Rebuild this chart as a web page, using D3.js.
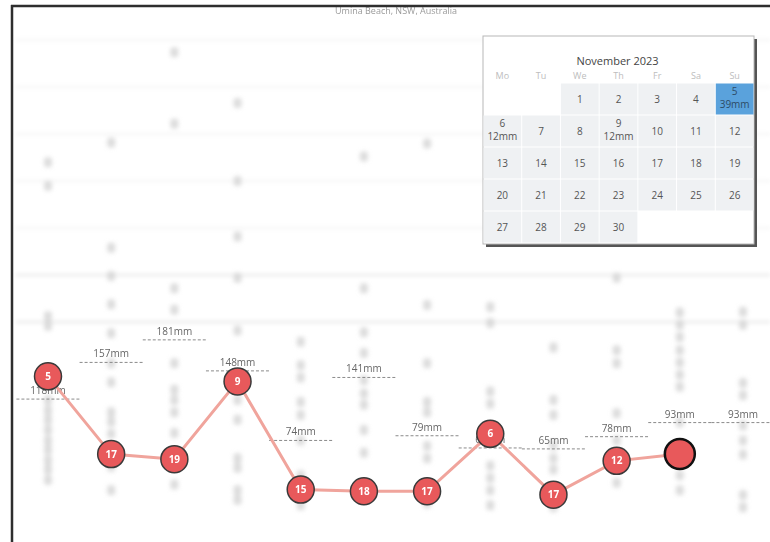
<!DOCTYPE html>
<html>
<head>
<meta charset="utf-8">
<script src="https://cdn.jsdelivr.net/npm/d3@7"></script>
<style>
  body { margin: 0; background: #fff; }
  svg { display: block; font-family: "Open Sans", "Noto Sans", sans-serif; }
</style>
</head>
<body>
<svg width="770" height="542"></svg>
<script>
// monthly data, 2023
var months = ["Jan", "Feb", "Mar", "Apr", "May", "Jun", "Jul", "Aug", "Sep", "Oct", "Nov", "Dec"];
var totals = [118, 157, 181, 148, 74, 141, 79, 66, 65, 78, 93, 93];
var peakMm = [85, 39, 36, 82, 18, 17, 17, 51, 15, 35, 39];
var peakDay = [5, 17, 19, 9, 15, 18, 17, 6, 17, 12, 5];
var selectedMonth = "Nov";

// faded background marks per month (mm scale)
var ghostMarks = [
  [370, 345, 206, 196, 117, 106, 96, 85, 74, 64, 53, 43, 32],
  [391, 279, 249, 219, 188, 156, 136, 104, 94, 81, 46, 21],
  [487, 411, 236, 213, 156, 128, 117, 104, 82, 27],
  [433, 350, 291, 247, 191, 117, 96, 55, 45, 21, 11],
  [179, 154, 141, 115, 101, 74, 37, 21, 5],
  [376, 236, 189, 167, 138, 124, 112, 85, 61],
  [390, 218, 156, 115, 104, 68, 55, 7],
  [216, 199, 126, 113, 47, 34, 21, 5],
  [173, 117, 101, 69, 55, 43, 3],
  [247, 170, 156, 103, 74, 29],
  [210, 197, 184, 170, 157, 144, 131, 93, 37, 21],
  [211, 197, 135, 122, 90, 74, 59, 16, 3]
];
var gridTicks = [200, 250, 300, 350, 400, 450, 500];

// calendar inset
var calTitle = "November 2023";
var weekDays = ["Mo", "Tu", "We", "Th", "Fr", "Sa", "Su"];
var calDays = [1, 2, 3, 4, 5, 6, 7, 8, 9, 10, 11, 12, 13, 14, 15, 16, 17, 18, 19, 20,
  21, 22, 23, 24, 25, 26, 27, 28, 29, 30];
var firstWeekday = 2; // 1 Nov 2023 is a Wednesday
var rainDays = [5, 6, 9];
var rainMm = [39, 12, 12];
var highlightDay = 5;

document.addEventListener("DOMContentLoaded", function () {

  var svg = d3.select("svg");
  var xScale = d3.scalePoint().domain(months).range([48, 743]);
  var yTotal = d3.scaleLinear().domain([0, 500]).range([510, 40]);
  var yPeak = d3.scaleLinear().domain([0, 100]).range([520, 351]);

  var defs = svg.append("defs");
  defs.append("filter").attr("id", "blur")
    .attr("x", "-20%").attr("y", "-20%").attr("width", "140%").attr("height", "140%")
    .append("feGaussianBlur").attr("stdDeviation", 2);

  drawGhost();
  drawTotals();
  drawLine();
  drawFrame();
  drawCalendar();

  function drawGhost() {
    var g = svg.append("g").attr("filter", "url(#blur)");

    g.selectAll("line.grid")
      .data(gridTicks).enter()
      .append("line")
      .attr("class", "grid")
      .attr("x1", 16).attr("x2", 770)
      .attr("y1", function (d) { return yTotal(d); })
      .attr("y2", function (d) { return yTotal(d); })
      .style("stroke", function (d) { return d <= 250 ? "#e4e4e4" : "#f3f3f3"; })
      .style("stroke-width", "2px");

    months.forEach(function (m, i) {
      g.selectAll("rect.m" + i)
        .data(ghostMarks[i]).enter()
        .append("rect")
        .attr("x", xScale(m) - 4)
        .attr("y", function (d) { return yTotal(d) - 5; })
        .attr("width", 8)
        .attr("height", 10)
        .attr("rx", 3)
        .style("fill", "#cfcfcf")
        .style("opacity", 0.7);
    });

    svg.append("text")
      .attr("x", 396).attr("y", 14)
      .attr("text-anchor", "middle")
      .style("font-size", "9px")
      .style("fill", "#9a9a9a")
      .text("Umina Beach, NSW, Australia");
  }

  function drawTotals() {
    var step = xScale.step();
    var g = svg.append("g");

    g.selectAll("line.total")
      .data(totals).enter()
      .append("line")
      .attr("x1", function (d, i) { return xScale(months[i]) - step / 2; })
      .attr("x2", function (d, i) { return xScale(months[i]) + step / 2; })
      .attr("y1", function (d) { return yTotal(d); })
      .attr("y2", function (d) { return yTotal(d); })
      .style("stroke", "#8a8a8a")
      .style("stroke-width", "1px")
      .style("stroke-dasharray", "3,2");

    g.selectAll("text.total")
      .data(totals).enter()
      .append("text")
      .attr("x", function (d, i) { return xScale(months[i]); })
      .attr("y", function (d) { return yTotal(d) - 5; })
      .attr("text-anchor", "middle")
      .style("font-size", "10px")
      .style("fill", "#666")
      .text(function (d) { return d + "mm"; });
  }

  function drawLine() {
    var pts = peakMm.map(function (v, i) { return { m: months[i], v: v, day: peakDay[i] }; });

    var line = d3.line()
      .x(function (d) { return xScale(d.m); })
      .y(function (d) { return yPeak(d.v); });

    svg.append("path")
      .datum(pts)
      .attr("d", line)
      .style("fill", "none")
      .style("stroke", "#f0a49c")
      .style("stroke-width", "3px");

    var dots = svg.selectAll("g.peak")
      .data(pts).enter()
      .append("g")
      .attr("class", "peak")
      .attr("transform", function (d) {
        return "translate(" + xScale(d.m) + "," + yPeak(d.v) + ")";
      });

    dots.append("circle")
      .attr("r", function (d) { return d.m === selectedMonth ? 15 : 13.5; })
      .style("fill", "#e8595b")
      .style("stroke", function (d) { return d.m === selectedMonth ? "#111" : "#3a3a3a"; })
      .style("stroke-width", function (d) { return d.m === selectedMonth ? "2.5px" : "1.5px"; });

    dots.filter(function (d) { return d.m !== selectedMonth; })
      .append("text")
      .attr("text-anchor", "middle")
      .attr("dy", "0.35em")
      .style("font-size", "10px")
      .style("font-weight", "bold")
      .style("fill", "#fff")
      .text(function (d) { return d.day; });
  }

  function drawFrame() {
    svg.append("line")
      .attr("x1", 11).attr("x2", 770).attr("y1", 6).attr("y2", 6)
      .style("stroke", "#2e2e2e").style("stroke-width", "2.5px");
    svg.append("line")
      .attr("x1", 12).attr("x2", 12).attr("y1", 5).attr("y2", 542)
      .style("stroke", "#2e2e2e").style("stroke-width", "2.5px");
  }

  function drawCalendar() {
    var left = 483, top = 36, w = 271, h = 208;
    var g = svg.append("g");

    g.append("rect")
      .attr("x", left + 3).attr("y", top + 3).attr("width", w).attr("height", h)
      .style("fill", "#555");
    g.append("rect")
      .attr("x", left).attr("y", top).attr("width", w).attr("height", h)
      .style("fill", "#fff").style("stroke", "#b8b8b8").style("stroke-width", "1px");

    g.append("text")
      .attr("x", left + w / 2 - 1).attr("y", 65)
      .attr("text-anchor", "middle")
      .style("font-size", "11px")
      .style("fill", "#444")
      .text(calTitle);

    var colScale = d3.scaleBand().domain(weekDays).range([left, left + w]);
    var rowScale = d3.scaleBand().domain([0, 1, 2, 3, 4]).range([83, 243]);

    g.selectAll("text.wd")
      .data(weekDays).enter()
      .append("text")
      .attr("x", function (d) { return colScale(d) + colScale.bandwidth() / 2; })
      .attr("y", 79)
      .attr("text-anchor", "middle")
      .style("font-size", "9px")
      .style("fill", "#bdbdbd")
      .text(function (d) { return d; });

    var cells = g.selectAll("g.day")
      .data(calDays).enter()
      .append("g")
      .attr("class", "day")
      .attr("transform", function (d) {
        var k = d - 1 + firstWeekday;
        return "translate(" + colScale(weekDays[k % 7]) + "," + rowScale(Math.floor(k / 7)) + ")";
      });

    cells.append("rect")
      .attr("x", 0.5).attr("y", 0.5)
      .attr("width", colScale.bandwidth() - 1)
      .attr("height", rowScale.bandwidth() - 1)
      .style("fill", function (d) { return d === highlightDay ? "#5aa2dc" : "#eff1f3"; });

    cells.append("text")
      .attr("x", colScale.bandwidth() / 2)
      .attr("y", function (d) {
        return rainDays.indexOf(d) >= 0 ? 12 : rowScale.bandwidth() / 2 + 4;
      })
      .attr("text-anchor", "middle")
      .style("font-size", "10px")
      .style("fill", function (d) { return d === highlightDay ? "#2d4b66" : "#555"; })
      .text(function (d) { return d; });

    cells.filter(function (d) { return rainDays.indexOf(d) >= 0; })
      .append("text")
      .attr("x", colScale.bandwidth() / 2)
      .attr("y", 25)
      .attr("text-anchor", "middle")
      .style("font-size", "10px")
      .style("fill", function (d) { return d === highlightDay ? "#2d4b66" : "#555"; })
      .text(function (d) { return rainMm[rainDays.indexOf(d)] + "mm"; });
  }

});
</script>
</body>
</html>
